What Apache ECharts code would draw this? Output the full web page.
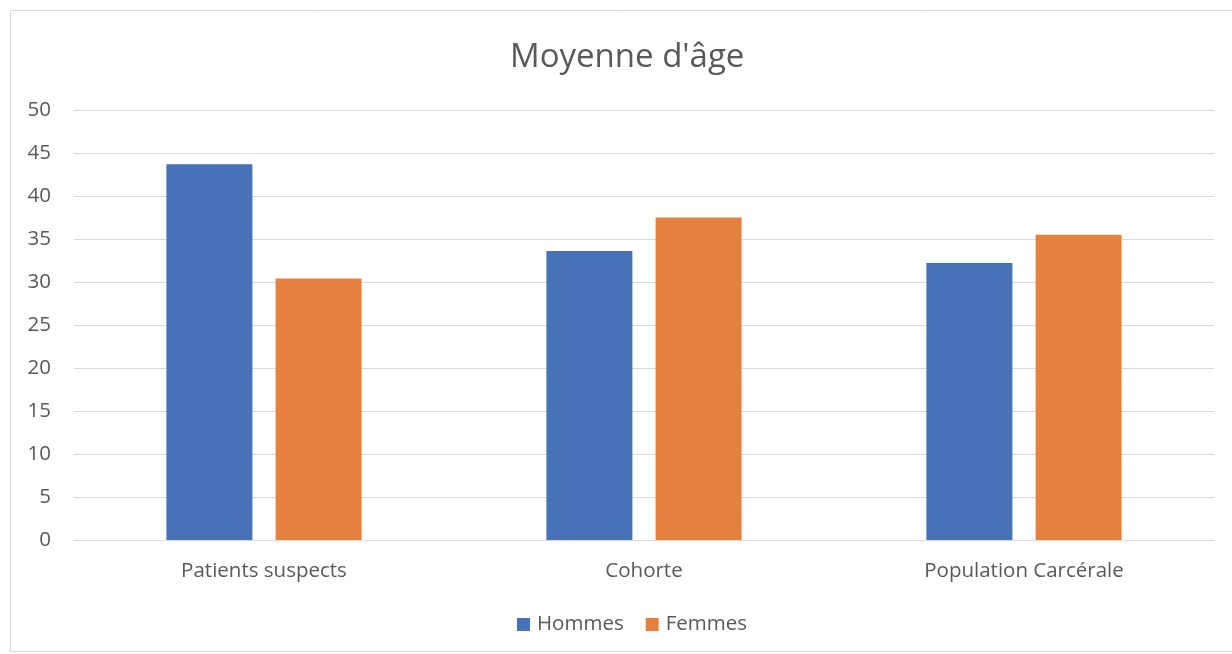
<!DOCTYPE html>
<html lang="fr">
<head>
	<meta charset="UTF-8">
	<title>Moyenne d'âge</title>
	<script src="https://cdn.jsdelivr.net/npm/echarts@6/dist/echarts.min.js"></script>
	<style>
		html, body { margin: 0; padding: 0; background: #fff; }
		#chart { width: 1232px; height: 654px; }
	</style>
</head>
<body>
	<div id="chart"></div>
	<script>
		const categories = ['Patients suspects', 'Cohorte', 'Population Carcérale'];
		const hommes = [43.7, 33.6, 32.2];
		const femmes = [30.4, 37.5, 35.5];
		const yTicks = [0, 50, 5]; // min, max, interval

		const font = '"Open Sans", "Noto Sans", sans-serif';
		const chart = echarts.init(document.getElementById('chart'));
		chart.setOption({
			animation: false,
			textStyle: { fontFamily: font },
			title: {
				text: "Moyenne d'âge",
				left: 505,
				top: 36,
				textStyle: { fontSize: 33, fontWeight: 'normal', color: '#595959', fontFamily: font }
			},
			graphic: [{
				type: 'rect',
				shape: { x: 10.5, y: 10.5, width: 1240, height: 641 },
				style: { fill: 'none', stroke: '#d9d9d9', lineWidth: 1 },
				silent: true
			}],
			legend: {
				bottom: 14,
				left: 512,
				itemWidth: 13,
				itemHeight: 13,
				itemGap: 22,
				icon: 'rect',
				textStyle: { fontSize: 20.5, color: '#595959', fontFamily: font, padding: [0, 0, 0, 2] }
			},
			grid: { left: 74, right: 18, top: 110, bottom: 114, containLabel: false },
			xAxis: {
				type: 'category',
				data: categories,
				axisLine: { lineStyle: { color: '#d9d9d9', width: 1 } },
				axisTick: { show: false },
				axisLabel: { fontSize: 20.5, color: '#595959', margin: 21, fontFamily: font }
			},
			yAxis: {
				type: 'value',
				min: yTicks[0],
				max: yTicks[1],
				interval: yTicks[2],
				axisLine: { show: false },
				axisTick: { show: false },
				splitLine: { lineStyle: { color: '#d9d9d9', width: 1 } },
				axisLabel: { fontSize: 20.5, color: '#595959', margin: 23, fontFamily: font }
			},
			series: [{
				name: 'Hommes',
				type: 'bar',
				data: hommes,
				barWidth: 86,
				barGap: '27%',
				itemStyle: { color: '#4672b8' }
			}, {
				name: 'Femmes',
				type: 'bar',
				data: femmes,
				barWidth: 86,
				itemStyle: { color: '#e5803e' }
			}]
		});
	</script>
</body>
</html>
